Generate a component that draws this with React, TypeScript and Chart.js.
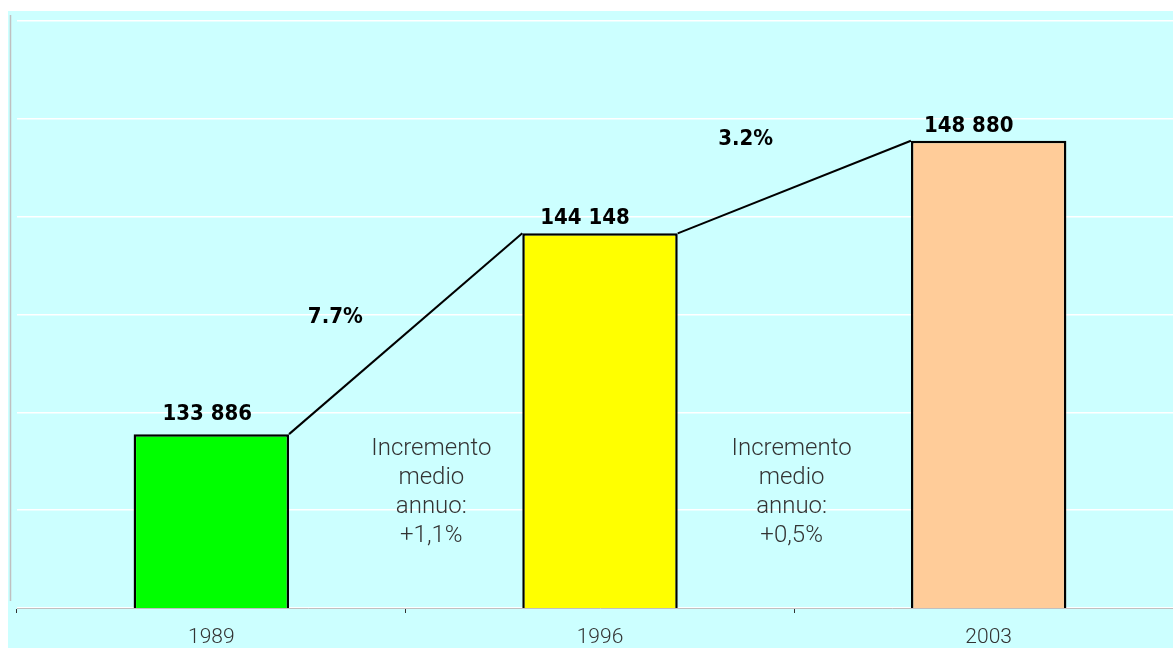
import React, { useEffect, useRef } from "react";
import { Chart, registerables } from "chart.js";

Chart.register(...registerables);

const categories = ["1989", "1996", "2003"];
const values = [133886, 144148, 148880];
const barColors = ["#00FF00", "#FFFF00", "#FFCC99"];
const growthLabels = ["7.7%", "3.2%"];
const annualLabels = ["+1,1%", "+0,5%"];
const yTicks = [125000, 130000, 135000, 140000, 145000, 150000, 155000];

const fmt = (v: number) => String(v).replace(/\B(?=(\d{3})+(?!\d))/g, " ");

const BOLD = 'bold 22px "DejaVu Sans Condensed", "DejaVu Sans", sans-serif';
const LIGHT = '300 24px Roboto, "Open Sans", sans-serif';

const overlay = {
  id: "overlay",
  afterDatasetsDraw(chart: any) {
    const ctx = chart.ctx;
    const area = chart.chartArea;
    const xs = chart.scales.x;
    const ys = chart.scales.y;
    const els = chart.getDatasetMeta(0).data;
    ctx.save();
    // left frame line
    ctx.strokeStyle = "#c0c0c0";
    ctx.lineWidth = 1.5;
    ctx.beginPath();
    ctx.moveTo(area.left - 6.5, area.top - 6);
    ctx.lineTo(area.left - 6.5, area.bottom - 7);
    ctx.stroke();
    // connectors
    ctx.strokeStyle = "#000";
    ctx.lineWidth = 2;
    for (let i = 0; i < els.length - 1; i++) {
      const a = els[i];
      const b = els[i + 1];
      ctx.beginPath();
      ctx.moveTo(a.x + a.width / 2, a.y);
      ctx.lineTo(b.x - b.width / 2, b.y);
      ctx.stroke();
    }
    // value labels
    const valOff = [[-4, 14], [-15, 9], [-20, 9]];
    ctx.fillStyle = "#000";
    ctx.font = BOLD;
    ctx.textAlign = "center";
    ctx.textBaseline = "alphabetic";
    els.forEach((el: any, i: number) => {
      ctx.fillText(fmt(values[i]), el.x + valOff[i][0], el.y - valOff[i][1]);
    });
    // growth labels
    const gPos = [[0.319, 139560], [1.375, 148660]];
    growthLabels.forEach((t, i) => {
      ctx.fillText(t, xs.getPixelForValue(gPos[i][0]), ys.getPixelForValue(gPos[i][1]));
    });
    // annual text blocks
    ctx.font = LIGHT;
    ctx.fillStyle = "#333333";
    const aPos = [[0.566, 132820], [1.493, 132820]];
    annualLabels.forEach((t, i) => {
      const lines = ["Incremento", "medio", "annuo:", t];
      const x = xs.getPixelForValue(aPos[i][0]);
      const y0 = ys.getPixelForValue(aPos[i][1]);
      lines.forEach((ln, j) => ctx.fillText(ln, x, y0 + j * 29));
    });
    ctx.restore();
  },
};

export default function App() {
  const ref = useRef<HTMLCanvasElement>(null);
  useEffect(() => {
    if (!ref.current) return;
    const chart = new Chart(ref.current, {
      type: "bar",
      data: {
        labels: categories,
        datasets: [
          {
            data: values,
            backgroundColor: barColors,
            borderColor: "#000",
            borderWidth: 2.5,
            borderSkipped: false,
            barPercentage: 0.4,
            categoryPercentage: 1,
          },
        ],
      },
      options: {
        responsive: false,
        animation: false,
        layout: { padding: { left: 9, top: 10, right: 5, bottom: 0 } },
        plugins: { legend: { display: false }, tooltip: { enabled: false } },
        scales: {
          x: {
            afterFit: (s: any) => {
              s.height = 40;
            },
            grid: {
              offset: true,
              drawOnChartArea: false,
              drawTicks: true,
              tickLength: 5,
              tickColor: "#333",
            },
            border: { display: true, color: "#c0c0c0", width: 1 },
            ticks: {
              color: "#333333",
              padding: 12,
              font: { family: "Roboto", size: 21, weight: "300" as any },
            },
          },
          y: {
            min: 125000,
            max: 155000,
            afterFit: (s: any) => {
              s.width = 0;
            },
            afterBuildTicks: (s: any) => {
              s.ticks = yTicks.map((v) => ({ value: v }));
            },
            grid: { color: "#ffffff", lineWidth: 1.5, drawTicks: false },
            border: { display: false },
            ticks: { display: false },
          },
        },
      },
      plugins: [overlay],
    });
    return () => chart.destroy();
  }, []);
  return (
    <div
      style={{
        position: "fixed",
        left: 8,
        top: 11,
        width: 1165,
        height: 637,
        overflow: "hidden",
        background: "#CCFFFF",
      }}
    >
      <canvas ref={ref} width={1180} height={637} style={{ display: "block" }} />
    </div>
  );
}
